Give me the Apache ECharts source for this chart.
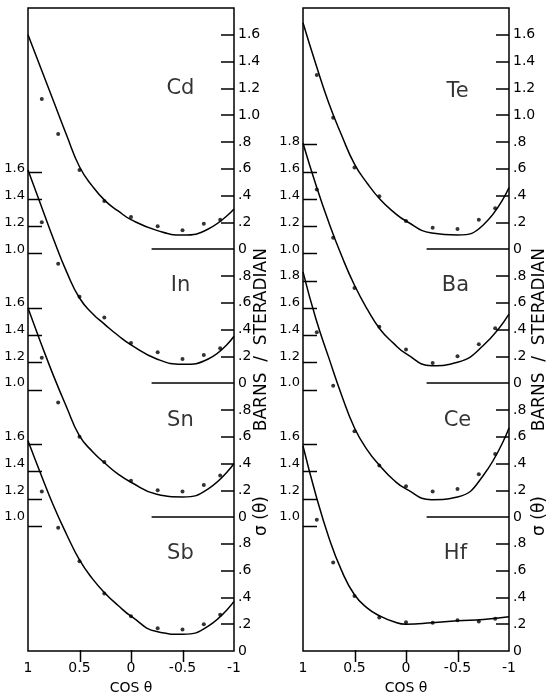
<!DOCTYPE html>
<html>
<head>
<meta charset="utf-8">
<script src="https://cdn.jsdelivr.net/npm/echarts@6/dist/echarts.min.js"></script>
<style>
  html, body { margin: 0; padding: 0; background: #fff; }
  #chart { width: 553px; height: 700px; }
</style>
</head>
<body>
<div id="chart"></div>
<script>
// angles of the measured points (cos 30°, 45° ... 150°) and of the readings along the drawn curves
const cosMeasured = [0.866, 0.707, 0.5, 0.259, 0, -0.259, -0.5, -0.707, -0.866];
const cosFit = [1, 0.875, 0.75, 0.625, 0.5, 0.375, 0.25, 0.125, 0, -0.25, -0.5, -0.75, -1];

// left panel (barns / steradian)
const cdPoints = [1.12, 0.86, 0.59, 0.36, 0.24, 0.17, 0.14, 0.19, 0.22];
const cdCurve = [1.60, 1.35, 1.10, 0.85, 0.615, 0.47, 0.36, 0.285, 0.22, 0.14, 0.105, 0.15, 0.30];
const inPoints = [1.20, 0.89, 0.645, 0.49, 0.30, 0.23, 0.18, 0.21, 0.26];
const inCurve = [1.59, 1.33, 1.07, 0.83, 0.635, 0.52, 0.435, 0.355, 0.285, 0.18, 0.14, 0.18, 0.35];
const snPoints = [1.19, 0.855, 0.60, 0.41, 0.27, 0.20, 0.19, 0.24, 0.31];
const snCurve = [1.56, 1.30, 1.05, 0.82, 0.605, 0.49, 0.40, 0.32, 0.26, 0.17, 0.15, 0.21, 0.40];
const sbPoints = [1.19, 0.92, 0.67, 0.43, 0.26, 0.17, 0.16, 0.20, 0.27];
const sbCurve = [1.57, 1.32, 1.08, 0.87, 0.68, 0.54, 0.43, 0.34, 0.26, 0.145, 0.125, 0.185, 0.37];

// right panel
const tePoints = [1.30, 0.98, 0.61, 0.395, 0.21, 0.16, 0.15, 0.22, 0.305];
const teCurve = [1.69, 1.38, 1.09, 0.85, 0.635, 0.49, 0.37, 0.28, 0.21, 0.12, 0.105, 0.18, 0.46];
const baPoints = [1.445, 1.085, 0.71, 0.42, 0.25, 0.15, 0.20, 0.29, 0.41];
const baCurve = [1.79, 1.48, 1.20, 0.95, 0.73, 0.55, 0.40, 0.30, 0.22, 0.13, 0.155, 0.28, 0.515];
const cePoints = [1.38, 0.98, 0.64, 0.385, 0.23, 0.19, 0.21, 0.32, 0.47];
const ceCurve = [1.83, 1.48, 1.19, 0.91, 0.665, 0.50, 0.38, 0.28, 0.21, 0.13, 0.15, 0.31, 0.665];
const hfPoints = [0.98, 0.66, 0.41, 0.25, 0.215, 0.21, 0.23, 0.22, 0.24];
const hfCurve = [1.53, 1.165, 0.85, 0.60, 0.42, 0.32, 0.26, 0.22, 0.20, 0.21, 0.225, 0.235, 0.255];

// each curve sits on its own zero line, stacked by one unit
const offsets = [3, 2, 1, 0];
const leftNames = ['Cd', 'In', 'Sn', 'Sb'];
const rightNames = ['Te', 'Ba', 'Ce', 'Hf'];

// tick labels
const xTickValues = [1, 0.5, 0, -0.5, -1];
const xTickLabels = ['1', '0.5', '0', '-0.5', '-1'];
const xTickMarks = [0.5, 0, -0.5];
const rightTickLabels = ['0', '.2', '.4', '.6', '.8', '0', '.2', '.4', '.6', '.8',
    '0', '.2', '.4', '.6', '.8', '0', '.2', '.4', '.6', '.8', '1.0', '1.2', '1.4', '1.6'];
const leftTickValuesA = [1, 1.2, 1.4, 1.6, 2, 2.2, 2.4, 2.6, 3, 3.2, 3.4, 3.6];
const leftTickLabelsA = ['1.0', '1.2', '1.4', '1.6', '1.0', '1.2', '1.4', '1.6', '1.0', '1.2', '1.4', '1.6'];
const leftTickValuesB = [1, 1.2, 1.4, 1.6, 2, 2.2, 2.4, 2.6, 2.8, 3, 3.2, 3.4, 3.6, 3.8];
const leftTickLabelsB = ['1.0', '1.2', '1.4', '1.6', '1.0', '1.2', '1.4', '1.6', '1.8', '1.0', '1.2', '1.4', '1.6', '1.8'];
const zeroLines = [1, 2, 3];
const zeroLineFrom = -0.2;

const panels = [
    { names: leftNames, points: [cdPoints, inPoints, snPoints, sbPoints], curves: [cdCurve, inCurve, snCurve, sbCurve],
      leftValues: leftTickValuesA, leftLabels: leftTickLabelsA,
      labelPos: [[-0.48, 1.2], [-0.48, 0.73], [-0.48, 0.72], [-0.48, 0.73]] },
    { names: rightNames, points: [tePoints, baPoints, cePoints, hfPoints], curves: [teCurve, baCurve, ceCurve, hfCurve],
      leftValues: leftTickValuesB, leftLabels: leftTickLabelsB,
      labelPos: [[-0.5, 1.18], [-0.48, 0.73], [-0.5, 0.72], [-0.48, 0.73]] },
];

const INK = '#000';
const FONT = "'DejaVu Sans', 'Liberation Sans', sans-serif";
const Y_MAX = 4.8;
const BOX = { lefts: [28, 303], top: 8, width: 206, height: 654 };
const pick = (vals, labels, v) => {
    const i = vals.findIndex((x) => Math.abs(x - v) < 1e-6);
    return i < 0 ? '' : labels[i];
};

const rightTickValues = rightTickLabels.map((_, i) => +(i * 0.2).toFixed(1));
const rightTickMarks = rightTickValues.filter((v) => v > 0 && zeroLines.indexOf(v) < 0);
const tickLine = { color: INK, width: 1.5 };

const chart = echarts.init(document.getElementById('chart'));

const grids = BOX.lefts.map((left) => ({
    left: left, top: BOX.top, width: BOX.width, height: BOX.height,
    show: true, borderColor: INK, borderWidth: 1.5,
}));

const xAxes = [0, 1].map((g) => ({
    gridIndex: g, type: 'value', min: -1, max: 1, inverse: true, position: 'bottom',
    axisLine: { show: false, onZero: false }, splitLine: { show: false }, axisTick: { show: false },
    axisLabel: { customValues: xTickValues, formatter: (v) => pick(xTickValues, xTickLabels, v),
        margin: 10, fontSize: 14, color: INK, fontFamily: FONT },
    name: 'COS θ', nameLocation: 'middle', nameGap: 30,
    nameTextStyle: { fontSize: 14, color: INK, fontFamily: FONT },
}));

const yAxes = [];
panels.forEach((p, g) => {
    yAxes.push({
        gridIndex: g, type: 'value', position: 'left', min: 0, max: Y_MAX,
        axisLine: { show: false, onZero: false }, splitLine: { show: false }, axisTick: { show: false },
        axisLabel: { customValues: p.leftValues, formatter: (v) => pick(p.leftValues, p.leftLabels, v),
            margin: 3, fontSize: 13, color: INK, fontFamily: FONT },
    });
    yAxes.push({
        gridIndex: g, type: 'value', position: 'right', min: 0, max: Y_MAX,
        axisLine: { show: false, onZero: false }, splitLine: { show: false },
        axisTick: { show: true, inside: true, length: 13, customValues: rightTickMarks, lineStyle: tickLine },
        axisLabel: { customValues: rightTickValues, formatter: (v) => pick(rightTickValues, rightTickLabels, v),
            margin: 4, fontSize: 14, color: INK, fontFamily: FONT },
    });
});

const series = [];
panels.forEach((p, g) => {
    const yIdx = g * 2;
    p.names.forEach((name, k) => {
        const off = offsets[k];
        series.push({
            name: name + ' fit', type: 'line', xAxisIndex: g, yAxisIndex: yIdx,
            data: cosFit.map((c, i) => [c, p.curves[k][i] + off]),
            smooth: 0.5, showSymbol: false, silent: true,
            lineStyle: { color: INK, width: 1.5 },
            markLine: k === 0 ? {
                silent: true, symbol: 'none', label: { show: false }, animation: false,
                lineStyle: { color: INK, width: 1.5, type: 'solid' },
                data: zeroLines.map((z) => [{ coord: [zeroLineFrom, z] }, { coord: [-1, z] }]),
            } : undefined,
        });
        series.push({
            name: name, type: 'scatter', xAxisIndex: g, yAxisIndex: yIdx,
            data: cosMeasured.map((c, i) => [c, p.points[k][i] + off]),
            symbolSize: 4, silent: true, itemStyle: { color: INK },
        });
        series.push({
            name: name + ' label', type: 'scatter', xAxisIndex: g, yAxisIndex: yIdx,
            data: [[p.labelPos[k][0], p.labelPos[k][1] + off]],
            symbolSize: 1, silent: true, itemStyle: { color: 'rgba(0,0,0,0)' },
            label: { show: true, position: 'inside', formatter: name, fontSize: 21, color: INK,
                textBorderWidth: 0, fontFamily: FONT },
        });
    });
});

// rotated axis titles, plus inward ticks on the left and bottom edges of each box
const yTitle = 'σ (θ)            BARNS  /  STERADIAN';
const graphics = [262, 540].map((x) => ({
    type: 'text', x: x, y: 392, rotation: Math.PI / 2,
    style: { text: yTitle, fill: INK, font: '17px ' + FONT, textAlign: 'center', textVerticalAlign: 'middle' },
}));
const tickMark = (x1, y1, x2, y2) => ({
    type: 'line', z: 100, silent: true,
    shape: { x1: x1, y1: y1, x2: x2, y2: y2 },
    style: { stroke: INK, lineWidth: 1.5 },
});
panels.forEach((p, g) => {
    const left = BOX.lefts[g];
    const bottom = BOX.top + BOX.height;
    p.leftValues.forEach((v) => {
        const y = Math.round(bottom - (v / Y_MAX) * BOX.height) + 0.5;
        graphics.push(tickMark(left, y, left + 14, y));
    });
    xTickMarks.forEach((c) => {
        const x = Math.round(left + ((1 - c) / 2) * BOX.width) + 0.5;
        graphics.push(tickMark(x, bottom, x, bottom - 12));
    });
});

chart.setOption({
    animation: false,
    backgroundColor: '#fff',
    grid: grids,
    xAxis: xAxes,
    yAxis: yAxes,
    series: series,
    graphic: graphics,
});
</script>
</body>
</html>
